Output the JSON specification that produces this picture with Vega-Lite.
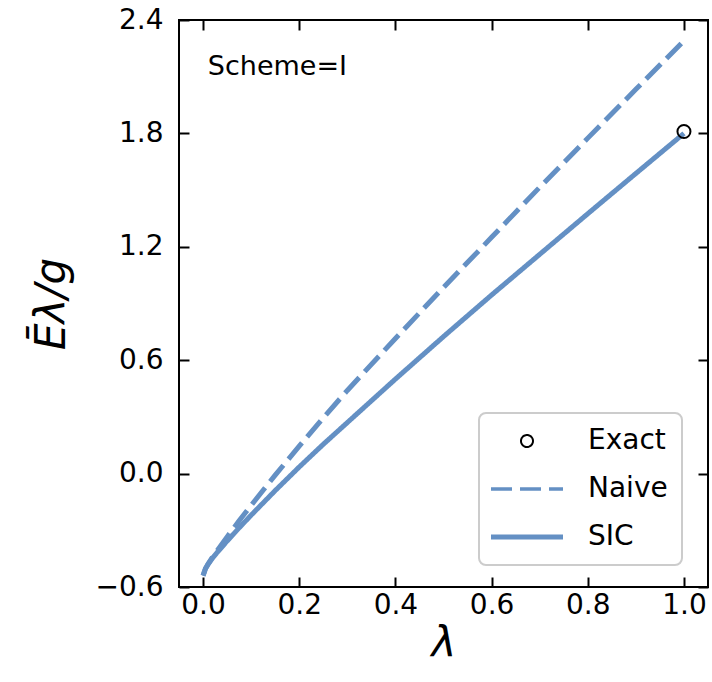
{
  "$schema": "https://vega.github.io/schema/vega-lite/v6.json",
  "width": 529,
  "height": 567,
  "autosize": {"type": "none"},
  "padding": {"left": 179, "top": 20, "right": 4, "bottom": 95},
  "background": "white",
  "datasets": {
    "curves": [
      {"lam": 0, "E": -0.54, "series": "Naive"},
      {"lam": 0.005, "E": -0.503, "series": "Naive"},
      {"lam": 0.01, "E": -0.48, "series": "Naive"},
      {"lam": 0.02, "E": -0.44, "series": "Naive"},
      {"lam": 0.03, "E": -0.405, "series": "Naive"},
      {"lam": 0.05, "E": -0.335, "series": "Naive"},
      {"lam": 0.075, "E": -0.25, "series": "Naive"},
      {"lam": 0.1, "E": -0.168, "series": "Naive"},
      {"lam": 0.15, "E": -0.008, "series": "Naive"},
      {"lam": 0.2, "E": 0.145, "series": "Naive"},
      {"lam": 0.25, "E": 0.295, "series": "Naive"},
      {"lam": 0.3, "E": 0.44, "series": "Naive"},
      {"lam": 0.4, "E": 0.715, "series": "Naive"},
      {"lam": 0.5, "E": 0.985, "series": "Naive"},
      {"lam": 0.6, "E": 1.25, "series": "Naive"},
      {"lam": 0.7, "E": 1.515, "series": "Naive"},
      {"lam": 0.8, "E": 1.775, "series": "Naive"},
      {"lam": 0.9, "E": 2.033, "series": "Naive"},
      {"lam": 1.0, "E": 2.29, "series": "Naive"},
      {"lam": 0, "E": -0.54, "series": "SIC"},
      {"lam": 0.005, "E": -0.503, "series": "SIC"},
      {"lam": 0.01, "E": -0.482, "series": "SIC"},
      {"lam": 0.02, "E": -0.446, "series": "SIC"},
      {"lam": 0.03, "E": -0.415, "series": "SIC"},
      {"lam": 0.05, "E": -0.357, "series": "SIC"},
      {"lam": 0.075, "E": -0.287, "series": "SIC"},
      {"lam": 0.1, "E": -0.22, "series": "SIC"},
      {"lam": 0.15, "E": -0.09, "series": "SIC"},
      {"lam": 0.2, "E": 0.035, "series": "SIC"},
      {"lam": 0.25, "E": 0.155, "series": "SIC"},
      {"lam": 0.3, "E": 0.27, "series": "SIC"},
      {"lam": 0.4, "E": 0.5, "series": "SIC"},
      {"lam": 0.5, "E": 0.725, "series": "SIC"},
      {"lam": 0.6, "E": 0.945, "series": "SIC"},
      {"lam": 0.7, "E": 1.16, "series": "SIC"},
      {"lam": 0.8, "E": 1.375, "series": "SIC"},
      {"lam": 0.9, "E": 1.588, "series": "SIC"},
      {"lam": 1.0, "E": 1.80, "series": "SIC"}
    ],
    "exact": [
      {"lam": 1.0, "E": 1.81, "series": "Exact"}
    ],
    "note": [
      {"lam": 0.01, "E": 2.15, "label": "Scheme=I"}
    ]
  },
  "config": {
    "font": "DejaVu Sans",
    "view": {"stroke": "black", "strokeWidth": 2},
    "axis": {
      "grid": false,
      "domain": false,
      "ticks": true,
      "tickColor": "black",
      "tickWidth": 2,
      "tickSize": -10,
      "labelFont": "DejaVu Sans",
      "labelFontSize": 28,
      "labelColor": "black",
      "titleFont": "DejaVu Sans",
      "titleFontSize": 42,
      "titleFontStyle": "italic",
      "titleFontWeight": "normal",
      "titleColor": "black"
    },
    "legend": {
      "orient": "none",
      "legendX": 300,
      "legendY": 393,
      "labelFont": "DejaVu Sans",
      "labelFontSize": 28,
      "labelColor": "black",
      "symbolSize": 144,
      "symbolOffset": 20,
      "labelOffset": 47,
      "fillColor": "rgba(255,255,255,0.85)",
      "strokeColor": "#cccccc",
      "strokeWidth": 2,
      "cornerRadius": 7,
      "padding": 14,
      "rowPadding": 20
    }
  },
  "layer": [
    {
      "data": {"name": "curves"},
      "mark": {"type": "line", "clip": true, "strokeWidth": 5},
      "encoding": {
        "x": {"field": "lam", "type": "quantitative",
              "scale": {"domain": [-0.05, 1.05], "nice": false, "zero": false},
              "axis": {"orient": "bottom", "values": [0, 0.2, 0.4, 0.6, 0.8, 1.0], "format": ".1f", "labelPadding": 14, "title": "λ", "titlePadding": 4}},
        "y": {"field": "E", "type": "quantitative",
              "scale": {"domain": [-0.6, 2.4], "nice": false, "zero": false},
              "axis": {"orient": "left", "values": [-0.6, 0, 0.6, 1.2, 1.8, 2.4], "format": ".1f", "labelPadding": 26, "title": "Ēλ/g", "titlePadding": 22}},
        "color": {"field": "series", "type": "nominal",
                  "scale": {"domain": ["Exact", "Naive", "SIC"], "range": ["black", "#6490c4", "#6490c4"]},
                  "legend": {"title": null}},
        "strokeDash": {"field": "series", "type": "nominal",
                       "scale": {"domain": ["Exact", "Naive", "SIC"], "range": [[1, 0], [21, 8], [1, 0]]},
                       "legend": {"title": null}}
      }
    },
    {
      "data": {"name": "exact"},
      "mark": {"type": "point", "filled": false, "clip": false, "opacity": 1, "size": 169},
      "encoding": {
        "x": {"field": "lam", "type": "quantitative", "axis": null},
        "y": {"field": "E", "type": "quantitative", "axis": null},
        "color": {"field": "series", "type": "nominal", "legend": {"title": null}},
        "shape": {"field": "series", "type": "nominal",
                  "scale": {"domain": ["Exact", "Naive", "SIC"], "range": ["M -1 0 A 1 1 0 1 1 1 0 A 1 1 0 1 1 -1 0 Z", "M -6 0 L 6 0", "M -6 0 L 6 0"]},
                  "legend": {"title": null}},
        "strokeWidth": {"field": "series", "type": "nominal",
                        "scale": {"domain": ["Exact", "Naive", "SIC"], "range": [2, 5, 5]},
                        "legend": {"title": null}}
      }
    },
    {
      "data": {"name": "note"},
      "mark": {"type": "text", "align": "left", "baseline": "middle", "fontSize": 27, "font": "DejaVu Sans", "color": "black"},
      "encoding": {
        "x": {"field": "lam", "type": "quantitative",
              "axis": {"orient": "top", "values": [0, 0.2, 0.4, 0.6, 0.8, 1.0], "labels": false, "title": null}},
        "y": {"field": "E", "type": "quantitative",
              "axis": {"orient": "right", "values": [-0.6, 0, 0.6, 1.2, 1.8, 2.4], "labels": false, "title": null}},
        "text": {"field": "label", "type": "nominal"}
      }
    }
  ]
}
